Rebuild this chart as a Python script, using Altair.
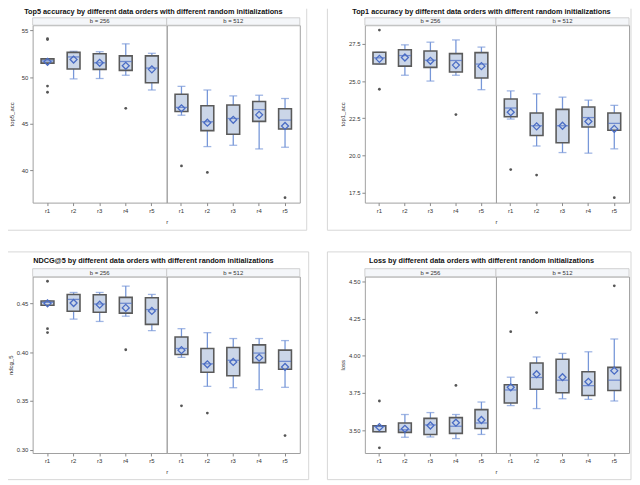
import altair as alt
import pandas as pd

R = ["r1", "r2", "r3", "r4", "r5"]
B = ["256", "512"]

# order of every stat list: b=256 r1..r5, then b=512 r1..r5
top5_lo = [51.50, 49.81, 49.85, 50.20, 48.62, 45.92, 42.56, 42.70, 42.31, 42.49]
top5_q1 = [51.50, 50.86, 50.83, 50.72, 49.39, 46.31, 44.27, 43.89, 45.26, 44.45]
top5_med = [51.74, 52.16, 51.53, 51.67, 50.97, 46.76, 45.22, 45.57, 46.52, 45.40]
top5_q3 = [51.95, 52.65, 52.51, 52.27, 52.27, 48.17, 46.94, 47.01, 47.39, 46.62]
top5_hi = [51.95, 52.76, 52.72, 53.56, 52.55, 49.01, 48.62, 47.99, 48.06, 47.71]
top5_mean = [51.64, 51.88, 51.53, 51.21, 50.83, 46.66, 45.12, 45.43, 45.96, 44.77]
top5_out_b = ["256", "256", "256", "256", "256", "512", "512", "512"]
top5_out_r = ["r1", "r1", "r1", "r1", "r4", "r1", "r2", "r5"]
top5_out_v = [54.12, 54.02, 49.04, 48.38, 46.66, 40.49, 39.79, 37.09]

top1_lo = [26.14, 25.39, 25.00, 25.39, 24.42, 22.45, 20.64, 20.20, 20.16, 20.45]
top1_q1 = [26.14, 26.00, 25.92, 25.61, 25.21, 22.60, 21.35, 20.86, 21.92, 21.70]
top1_med = [26.56, 26.71, 26.40, 26.38, 26.14, 23.19, 22.00, 22.00, 22.55, 22.16]
top1_q3 = [26.93, 27.10, 27.02, 26.84, 26.91, 23.79, 22.86, 23.10, 23.26, 22.86]
top1_hi = [26.93, 27.43, 27.61, 27.76, 27.28, 24.34, 24.14, 23.92, 23.72, 23.37]
top1_mean = [26.49, 26.58, 26.36, 26.07, 26.00, 22.91, 21.96, 22.00, 22.29, 21.79]
top1_out_b = ["256", "256", "256", "512", "512", "512"]
top1_out_r = ["r1", "r1", "r4", "r1", "r2", "r5"]
top1_out_v = [28.42, 24.45, 22.75, 19.06, 18.69, 17.17]

ndcg_lo = [0.4480, 0.4338, 0.4314, 0.4368, 0.4220, 0.3946, 0.3649, 0.3635, 0.3615, 0.3639]
ndcg_q1 = [0.4480, 0.4419, 0.4409, 0.4399, 0.4284, 0.3976, 0.3794, 0.3757, 0.3892, 0.3824]
ndcg_med = [0.4510, 0.4540, 0.4493, 0.4500, 0.4436, 0.4037, 0.3880, 0.3916, 0.3990, 0.3905]
ndcg_q3 = [0.4524, 0.4591, 0.4588, 0.4561, 0.4557, 0.4155, 0.4037, 0.4047, 0.4074, 0.4020]
ndcg_hi = [0.4524, 0.4611, 0.4611, 0.4676, 0.4591, 0.4240, 0.4199, 0.4139, 0.4139, 0.4118]
ndcg_mean = [0.4500, 0.4503, 0.4486, 0.4453, 0.4422, 0.4020, 0.3875, 0.3899, 0.3943, 0.3848]
ndcg_out_b = ["256", "256", "256", "256", "512", "512", "512"]
ndcg_out_r = ["r1", "r1", "r1", "r4", "r1", "r2", "r5"]
ndcg_out_v = [0.4726, 0.4240, 0.4200, 0.4024, 0.3449, 0.3375, 0.3145]

loss_lo = [3.489, 3.452, 3.454, 3.443, 3.471, 3.665, 3.645, 3.711, 3.707, 3.696]
loss_q1 = [3.489, 3.485, 3.471, 3.478, 3.511, 3.682, 3.775, 3.751, 3.733, 3.766]
loss_med = [3.525, 3.502, 3.535, 3.526, 3.548, 3.770, 3.854, 3.836, 3.799, 3.836]
loss_q3 = [3.529, 3.548, 3.579, 3.584, 3.638, 3.805, 3.951, 3.977, 3.893, 3.922]
loss_hi = [3.529, 3.605, 3.618, 3.605, 3.689, 3.856, 3.992, 4.016, 4.027, 4.113]
loss_mean = [3.520, 3.509, 3.531, 3.550, 3.568, 3.788, 3.876, 3.856, 3.825, 3.900]
loss_out_b = ["256", "256", "256", "512", "512", "512"]
loss_out_r = ["r1", "r1", "r4", "r1", "r2", "r5"]
loss_out_v = [3.696, 3.381, 3.801, 4.162, 4.291, 4.471]

titles = [
    "Top5 accuracy by different data orders with different random initializations",
    "Top1 accuracy by different data orders with different random initializations",
    "NDCG@5 by different data orders with different random initializations",
    "Loss by different data orders with different random initializations",
]
ytitles = ["top5_acc", "top1_acc", "ndcg_5", "loss"]
ydomains = [[36.56, 55.56], [16.84, 28.75], [0.2966, 0.4774], [3.346, 4.533]]
yticks = [[40, 45, 50, 55], [17.5, 20.0, 22.5, 25.0, 27.5], [0.30, 0.35, 0.40, 0.45],
          [3.50, 3.75, 4.00, 4.25, 4.50]]
yformats = ["d", ".1f", ".2f", ".2f"]

# grid layout: columns = [left facet, right facet, gap, left facet, right facet]
col_w = [136, 135, 65.5, 133, 135]
row_h = [180, 179]
title_x = [122.5, 118.3, 122.5, 118.3]
title_y = [-13.0, -13.0, -16.0, -16.0]
hdr_h = [7.5, 7.5, 8.0, 8.0]
title_pads = [7, 3, 3, 3]
# light frame around each of the four panels, relative to the panel's plot corner:
# (x, x2, y, y2) segments
frames = [
    [(278, 278, -16.7, 208), (-25, 278, 208, 208)],
    [(-38, -38, -16.7, 208), (-38, 270, 208, 208), (270, 270, -16.7, 208)],
    [(-25, 280, -25, -25), (280, 280, -25, 206), (-25, 280, 206, 206)],
    [(-38, 270, -25, -25), (-38, -38, -25, 206), (270, 270, -25, 206), (-38, 270, 206, 206)],
]

FONT = "Liberation Sans"
BOX_FILL = "#cbd6e8"
BOX_STROKE = "#5a5a5a"
BLUE = "#4a6cc4"
WHISK = "#7797d8"
FRAME = "#a0a0a0"
OUTER = "#d6d6d6"


def make_box_df(lo, q1, med, q3, hi, mean):
    rows = []
    for i, b in enumerate(B):
        for j, r in enumerate(R):
            k = i * 5 + j
            rows.append(dict(b=b, r=r, lo=lo[k], q1=q1[k], med=med[k], q3=q3[k],
                             hi=hi[k], mean=mean[k]))
    return pd.DataFrame(rows)


def facet(m, box, out, b, left):
    col = (0 if m % 2 == 0 else 3) + (0 if left else 1)
    W = col_w[col]
    H = row_h[m // 2]
    d = box[box.b == b]
    o = out[out.b == b]
    xscale = alt.Scale(domain=R, paddingInner=0, paddingOuter=0.07)
    if left:
        xaxis = alt.Axis(labelAngle=0, labelFontSize=6, labelColor="#333", labelPadding=2,
                         tickSize=3, tickColor="#888", domain=False,
                         title="r", titleFontSize=6, titleFontWeight="normal",
                         titleColor="#333", titlePadding=5, titleX=W)
        yaxis = alt.Axis(values=yticks[m], format=yformats[m], labelFontSize=6,
                         labelColor="#333", labelPadding=2, tickSize=3, tickColor="#888",
                         domain=False, grid=False, title=ytitles[m], titleFontSize=6,
                         titleFontWeight="normal", titleColor="#333",
                         titlePadding=title_pads[m])
    else:
        xaxis = alt.Axis(labelAngle=0, labelFontSize=6, labelColor="#333", labelPadding=2,
                         tickSize=3, tickColor="#888", domain=False, title=None)
        yaxis = None
    yscale = alt.Scale(domain=ydomains[m], nice=False, zero=False)
    X = alt.X("r:N", scale=xscale, axis=xaxis)
    base = alt.Chart(d)
    whisk = base.mark_rule(color=WHISK, strokeWidth=1.3).encode(
        x=X, y=alt.Y("lo:Q", scale=yscale, axis=yaxis), y2="hi:Q")
    cap_lo = base.mark_tick(color=WHISK, size=8, thickness=1.3).encode(
        x=X, y=alt.Y("lo:Q", scale=yscale))
    cap_hi = base.mark_tick(color=WHISK, size=8, thickness=1.3).encode(
        x=X, y=alt.Y("hi:Q", scale=yscale))
    boxm = base.mark_bar(size=13, fill=BOX_FILL, stroke=BOX_STROKE, strokeWidth=1.6).encode(
        x=X, y=alt.Y("q1:Q", scale=yscale), y2="q3:Q")
    medm = base.mark_tick(color=BLUE, size=12, thickness=1.3).encode(
        x=X, y=alt.Y("med:Q", scale=yscale))
    meanm = base.mark_point(shape="diamond", filled=False, color=BLUE, size=50,
                            strokeWidth=1.3, opacity=1).encode(
        x=X, y=alt.Y("mean:Q", scale=yscale))
    outm = alt.Chart(o).mark_point(shape="circle", filled=True, color="#555",
                                   size=8, opacity=1).encode(
        x=X, y=alt.Y("v:Q", scale=yscale))
    hdr_df = pd.DataFrame({"t": ["b = " + b]})
    hdr = alt.Chart(hdr_df).mark_rect(fill="#f4f6f9", stroke="#c6c6c6", strokeWidth=0.8).encode(
        x=alt.value(0), x2=alt.value(W), y=alt.value(-hdr_h[m]), y2=alt.value(0))
    hdr_t = alt.Chart(hdr_df).mark_text(fontSize=6, color="#333", baseline="middle").encode(
        x=alt.value(W / 2), y=alt.value(-hdr_h[m] / 2), text="t:N")
    layers = [whisk, cap_lo, cap_hi, boxm, medm, meanm, outm, hdr, hdr_t]
    if left:
        for (fx, fx2, fy, fy2) in frames[m]:
            seg = alt.Chart(pd.DataFrame({"s": [0]})).mark_rule(color=OUTER, strokeWidth=1)
            if fx == fx2:
                seg = seg.encode(x=alt.value(fx), y=alt.value(fy), y2=alt.value(fy2))
            else:
                seg = seg.encode(x=alt.value(fx), x2=alt.value(fx2), y=alt.value(fy))
            layers.insert(0, seg)
        t_df = pd.DataFrame({"t": [titles[m]]})
        layers.append(alt.Chart(t_df).mark_text(
            fontSize=7.4, fontWeight="bold", color="#111", baseline="middle").encode(
            x=alt.value(title_x[m]), y=alt.value(title_y[m]), text="t:N"))
    return alt.layer(*layers).properties(width=W, height=H)


def spacer(row):
    return alt.Chart(pd.DataFrame({"a": [0]})).mark_point(opacity=0).encode(
        x=alt.value(0), y=alt.value(0)).properties(
        width=col_w[2], height=row_h[row], view=alt.ViewBackground(strokeOpacity=0))


metric_stats = [
    (top5_lo, top5_q1, top5_med, top5_q3, top5_hi, top5_mean, top5_out_b, top5_out_r, top5_out_v),
    (top1_lo, top1_q1, top1_med, top1_q3, top1_hi, top1_mean, top1_out_b, top1_out_r, top1_out_v),
    (ndcg_lo, ndcg_q1, ndcg_med, ndcg_q3, ndcg_hi, ndcg_mean, ndcg_out_b, ndcg_out_r, ndcg_out_v),
    (loss_lo, loss_q1, loss_med, loss_q3, loss_hi, loss_mean, loss_out_b, loss_out_r, loss_out_v),
]

panels = []
for m, st in enumerate(metric_stats):
    box = make_box_df(*st[:6])
    out = pd.DataFrame({"b": st[6], "r": st[7], "v": st[8]})
    panels.append((facet(m, box, out, "256", True), facet(m, box, out, "512", False)))

cells = [panels[0][0], panels[0][1], spacer(0), panels[1][0], panels[1][1],
         panels[2][0], panels[2][1], spacer(1), panels[3][0], panels[3][1]]

chart = alt.concat(*cells, columns=5, spacing={"row": 75, "column": 0}, bounds="flush").resolve_scale(
    x="independent", y="independent").properties(
    padding={"top": -4, "left": -2, "right": 0, "bottom": 0}, background="white").configure(
    font=FONT).configure_view(stroke=FRAME, strokeWidth=1)

chart.save("out.html", embed_options={"renderer": "svg", "actions": False})
